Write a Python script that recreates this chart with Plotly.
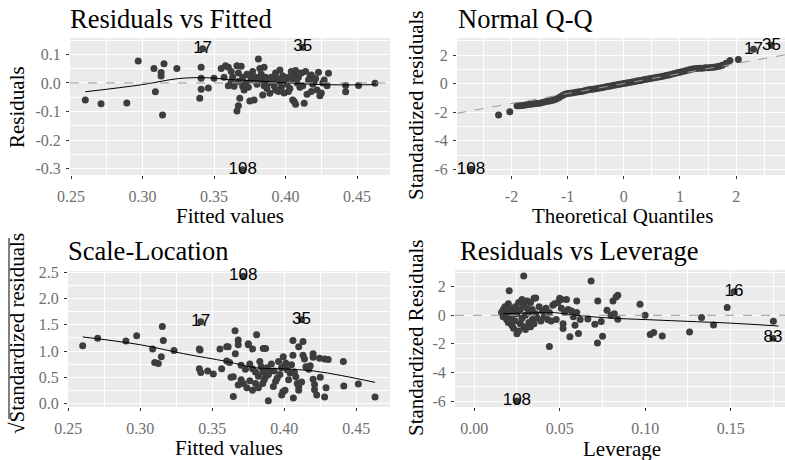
import plotly.graph_objects as go

# ---------------- data ----------------
# Panel 1: Residuals vs Fitted (first three points are the labelled ones)
rv_labels = ["17", "35", "108"]
rv_fitted = [0.342, 0.412, 0.370,
             0.260, 0.271, 0.289, 0.297, 0.308, 0.309, 0.313, 0.313, 0.315, 0.314,
             0.324, 0.341, 0.341, 0.341, 0.340, 0.346, 0.350, 0.355, 0.357, 0.358,
             0.360, 0.360, 0.362, 0.363, 0.364, 0.366, 0.367, 0.367, 0.368, 0.366,
             0.367, 0.369, 0.370, 0.370, 0.372, 0.373, 0.374, 0.375, 0.376, 0.377,
             0.378, 0.379, 0.380, 0.381, 0.382, 0.383, 0.384, 0.384, 0.385, 0.386,
             0.387, 0.388, 0.389, 0.390, 0.391, 0.392, 0.393, 0.394, 0.395, 0.396,
             0.397, 0.398, 0.399, 0.400, 0.401, 0.402, 0.403, 0.404, 0.405, 0.406,
             0.406, 0.407, 0.407, 0.408, 0.409, 0.410, 0.411, 0.412, 0.413, 0.414,
             0.415, 0.416, 0.417, 0.418, 0.419, 0.420, 0.421, 0.422, 0.423, 0.424,
             0.425, 0.426, 0.427, 0.430, 0.429, 0.442, 0.442, 0.451, 0.4625,
             0.362, 0.371, 0.385, 0.393, 0.402, 0.396, 0.380, 0.375, 0.405, 0.418]
rv_resid = [0.119, 0.125, -0.304,
            -0.060, -0.073, -0.070, 0.077, 0.050, -0.031, 0.036, 0.024, 0.067, -0.112,
            0.050, 0.055, 0.016, -0.022, -0.054, -0.018, 0.016, 0.050, 0.020, 0.060,
            -0.010, 0.055, 0.040, 0.020, -0.012, 0.060, 0.035, 0.005, -0.054, -0.098,
            -0.080, 0.058, 0.020, -0.012, 0.000, 0.030, -0.015, -0.063, 0.010, 0.040,
            -0.060, 0.020, -0.005, 0.084, 0.050, 0.030, -0.042, 0.010, 0.055, 0.020,
            -0.020, 0.000, -0.036, 0.020, 0.010, -0.010, -0.025, 0.015, -0.030, 0.005,
            -0.015, 0.025, -0.035, 0.010, -0.005, 0.020, -0.020, 0.040, -0.060, -0.065,
            0.030, -0.075, 0.043, 0.000, 0.020, -0.015, 0.035, -0.010, -0.071, 0.040,
            -0.040, 0.010, 0.020, -0.030, -0.005, 0.005, 0.015, -0.025, 0.037, -0.045,
            -0.035, 0.000, 0.010, 0.034, -0.010, -0.009, -0.031, -0.009, -0.001,
            0.005, -0.025, -0.010, 0.035, -0.030, 0.045, 0.015, 0.025, 0.012, 0.028]
rv_smooth_x = [0.26, 0.30, 0.325, 0.345, 0.36, 0.38, 0.40, 0.42, 0.44, 0.4625]
rv_smooth_y = [-0.031, -0.006, 0.015, 0.018, 0.012, 0.007, 0.000, -0.005, -0.007, -0.006]
rv_xticks = [0.25, 0.30, 0.35, 0.40, 0.45]
rv_xticktext = ["0.25", "0.30", "0.35", "0.40", "0.45"]
rv_yticks = [0.1, 0.0, -0.1, -0.2, -0.3]
rv_yticktext = ["0.1", "0.0", "-0.1", "-0.2", "-0.3"]

# Panel 2: Normal Q-Q
qq_labels = ["108", "17", "35"]
qq_theoretical = [-2.72, 2.31, 2.63,
                  -2.23, -2.03, -1.90, -1.85, -1.80, -1.75, -1.70, -1.65, -1.60, -1.55,
                  -1.50, -1.45, -1.40, -1.35, -1.30, -1.25, -1.20, -1.15, -1.10, -1.05,
                  -1.00, -0.95, -0.90, -0.85, -0.80, -0.75, -0.70, -0.65, -0.60, -0.55,
                  -0.50, -0.45, -0.40, -0.35, -0.30, -0.25, -0.20, -0.15, -0.10, -0.05,
                  0.00, 0.05, 0.10, 0.15, 0.20, 0.25, 0.30, 0.35, 0.40, 0.45, 0.50,
                  0.55, 0.60, 0.65, 0.70, 0.75, 0.80, 0.85, 0.90, 0.95, 1.00, 1.05,
                  1.10, 1.15, 1.20, 1.25, 1.30, 1.35, 1.40, 1.45, 1.50, 1.55, 1.60,
                  1.65, 1.70, 1.75, 1.82, 1.89, 2.04]
qq_std_resid = [-6.00, 2.40, 2.68,
                -2.20, -1.98, -1.55, -1.56, -1.53, -1.50, -1.47, -1.45, -1.42, -1.40,
                -1.37, -1.32, -1.27, -1.24, -1.20, -1.15, -1.08, -0.98, -0.85, -0.74,
                -0.70, -0.67, -0.64, -0.61, -0.58, -0.55, -0.50, -0.45, -0.42, -0.39,
                -0.36, -0.32, -0.29, -0.25, -0.21, -0.18, -0.14, -0.10, -0.07, -0.03,
                0.00, 0.04, 0.08, 0.11, 0.15, 0.19, 0.22, 0.26, 0.30, 0.33, 0.37,
                0.40, 0.44, 0.48, 0.52, 0.56, 0.60, 0.65, 0.70, 0.75, 0.80, 0.85,
                0.90, 0.95, 1.00, 1.03, 1.05, 1.07, 1.08, 1.10, 1.11, 1.12, 1.14,
                1.17, 1.22, 1.28, 1.42, 1.62, 1.68]
qq_line_slope = 0.70
qq_line_intercept = 0.0
qq_xticks = [-2, -1, 0, 1, 2]
qq_xticktext = ["-2", "-1", "0", "1", "2"]
qq_yticks = [2, 0, -2, -4, -6]
qq_yticktext = ["2", "0", "-2", "-4", "-6"]

# Panel 3: Scale-Location
sl_labels = ["108", "17", "35"]
sl_fitted = [0.3715, 0.342, 0.412,
             0.260, 0.2704, 0.290, 0.2975, 0.3086, 0.310, 0.3125, 0.3146, 0.3153, 0.316,
             0.3234, 0.341, 0.3415, 0.341, 0.342, 0.3468, 0.3507, 0.3565, 0.3553, 0.360,
             0.360, 0.3646, 0.3658, 0.368, 0.368, 0.3646, 0.3715, 0.368, 0.373, 0.370,
             0.375, 0.378, 0.3808, 0.3854, 0.387, 0.378, 0.380, 0.385, 0.387, 0.3889,
             0.384, 0.385, 0.389, 0.390, 0.3924, 0.394, 0.3982, 0.399, 0.3993, 0.400,
             0.401, 0.404, 0.4063, 0.406, 0.413, 0.410, 0.406, 0.408, 0.409, 0.410,
             0.410, 0.412, 0.413, 0.414, 0.415, 0.417, 0.418, 0.420, 0.420, 0.420,
             0.421, 0.421, 0.4225, 0.4245, 0.425, 0.428, 0.429, 0.4413, 0.441, 0.4514,
             0.463, 0.376, 0.378, 0.380, 0.382, 0.383, 0.386, 0.388, 0.391, 0.393,
             0.395, 0.396, 0.397, 0.398, 0.402, 0.403, 0.405, 0.407, 0.366, 0.362,
             0.363, 0.370, 0.374, 0.376, 0.382, 0.361, 0.375, 0.4005, 0.4305, 0.428]
sl_sqrt_std_resid = [2.43, 1.56, 1.60,
                     1.10, 1.245, 1.19, 1.29, 1.04, 0.78, 0.76, 0.89, 1.47, 1.20,
                     1.01, 1.04, 1.02, 0.66, 0.59, 0.62, 0.56, 0.66, 1.04, 1.08,
                     0.81, 0.13, 1.39, 1.12, 1.21, 0.51, 0.38, 0.35, 0.65, 0.73,
                     1.12, 1.04, 1.31, 1.05, 1.05, 0.25, 0.38, 0.38, 0.51, 0.05,
                     0.70, 0.60, 0.55, 0.62, 0.32, 0.42, 0.16, 0.22, 0.89, 0.71,
                     0.77, 0.58, 0.10, 1.20, 1.18, 1.08, 0.92, 0.51, 0.38, 0.32,
                     0.25, 0.41, 0.92, 0.85, 0.70, 0.65, 0.72, 0.88, 0.95, 0.46,
                     0.36, 0.26, 0.16, 0.86, 0.50, 0.85, 0.30, 0.33, 0.80, 0.37,
                     0.12, 0.75, 0.66, 0.60, 0.52, 0.80, 0.45, 0.68, 0.75, 0.62,
                     0.48, 0.80, 0.55, 0.68, 0.64, 0.45, 0.74, 0.60, 0.95, 0.78,
                     0.50, 0.45, 0.30, 0.43, 0.30, 1.08, 1.14, 0.25, 0.84, 0.12]
sl_smooth_x = [0.26, 0.30, 0.33, 0.36, 0.38, 0.40, 0.42, 0.44, 0.463]
sl_smooth_y = [1.27, 1.12, 0.95, 0.80, 0.68, 0.66, 0.62, 0.53, 0.40]
sl_yticks = [0.0, 0.5, 1.0, 1.5, 2.0, 2.5]
sl_yticktext = ["0.0", "0.5", "1.0", "1.5", "2.0", "2.5"]

# Panel 4: Residuals vs Leverage
lev_labels = ["108", "16", "83"]
lev_leverage = [0.025, 0.152, 0.1748,
                0.016, 0.017, 0.017, 0.018, 0.018, 0.019, 0.019, 0.020, 0.020, 0.021,
                0.021, 0.022, 0.022, 0.023, 0.023, 0.024, 0.024, 0.025, 0.025, 0.026,
                0.026, 0.027, 0.027, 0.028, 0.028, 0.029, 0.029, 0.030, 0.030, 0.031,
                0.031, 0.032, 0.032, 0.033, 0.033, 0.034, 0.034, 0.035, 0.035, 0.036,
                0.037, 0.038, 0.039, 0.040, 0.041, 0.042, 0.043, 0.044, 0.045,
                0.0205, 0.029, 0.036, 0.044,
                0.046, 0.047, 0.048, 0.049, 0.050, 0.051, 0.051, 0.052, 0.052, 0.053,
                0.054, 0.055, 0.056, 0.057, 0.058, 0.059, 0.060, 0.060, 0.061, 0.062,
                0.0665, 0.0684, 0.0706, 0.0721, 0.0723, 0.0743, 0.0751, 0.0777, 0.080,
                0.0812, 0.083, 0.084, 0.084, 0.082, 0.097, 0.100, 0.103, 0.105, 0.110,
                0.126, 0.133, 0.140, 0.148, 0.175]
lev_std_resid = [-6.00, 1.65, -1.60,
                 0.2, 0.4, -0.1, 0.1, 0.6, -0.3, 0.3, 0.8, -0.5, 0.0,
                 0.5, -0.2, -0.7, 0.3, -0.9, 0.6, -0.4, -1.3, 0.1, -1.1,
                 0.9, -0.6, 0.4, 1.1, -0.2, -0.8, 0.7, 0.0, -1.0, 0.5,
                 1.0, -0.5, 0.2, -0.8, 0.9, -0.3, 0.4, 1.2, -0.6, 0.1,
                 -0.2, 0.6, -0.4, 0.3, -0.1, 0.5, -0.3, 0.2, -0.4,
                 1.72, 2.75, 1.21, -2.19,
                 0.7, 0.8, -0.3, 0.9, 1.2, 0.5, 1.1, -0.6, -0.93, 0.2,
                 1.1, 0.4, -1.5, 0.3, -0.1, -0.7, 1.0, 0.2, -1.27, -0.3,
                 -0.26, 2.40, -0.63, -1.94, 1.00, -0.43, -1.47, 0.36, 0.0,
                 1.0, 1.28, 1.40, -0.28, 0.1, 0.78, 0.0, -1.35, -1.2, -1.45,
                 -1.17, -0.16, -0.68, 0.54, -0.42]
lev_smooth_x = [0.017, 0.03, 0.045, 0.05, 0.06, 0.08, 0.10, 0.13, 0.15, 0.178]
lev_smooth_y = [0.12, 0.15, 0.20, 0.15, 0.00, -0.20, -0.30, -0.45, -0.55, -0.75]
lev_xticks = [0.00, 0.05, 0.10, 0.15]
lev_xticktext = ["0.00", "0.05", "0.10", "0.15"]

# ---------------- styling ----------------
W, H = 785, 460
SERIF = "Liberation Serif"
SANS = "Liberation Sans"
PT_COLOR = "#3d3d3d"
TICK_FONT = dict(family=SERIF, size=16, color="#707070")
TITLE_SIZE = 26.5
AXT_SIZE = 21


def fx(p):
    return p / W


def fy(p):
    return 1 - p / H


def minors(vals, lo, hi):
    step = abs(vals[1] - vals[0])
    start = min(vals) - step / 2
    out = []
    v = start
    while v <= max(vals) + step:
        if lo <= v <= hi:
            out.append(round(v, 6))
        v += step
    return out


def axis(domain, rng, tickvals, ticktext, anchor, standoff):
    return dict(
        domain=domain, range=rng, anchor=anchor, automargin=False,
        tickmode="array", tickvals=tickvals, ticktext=ticktext,
        showgrid=True, gridcolor="white", gridwidth=1.4,
        minor=dict(tickmode="array", tickvals=minors(tickvals, rng[0], rng[1]),
                   showgrid=True, gridcolor="white", gridwidth=0.6, ticks=""),
        ticks="outside", ticklen=3, tickwidth=1, tickcolor="#333333",
        ticklabelstandoff=standoff,
        tickfont=TICK_FONT, zeroline=False, showline=False,
    )


fig = go.Figure()

dom = {
    1: ([fx(70), fx(390)], [fy(175), fy(38)]),
    2: ([fx(457), fx(785)], [fy(175), fy(38)]),
    3: ([fx(68), fx(390)], [fy(407), fy(271)]),
    4: ([fx(455), fx(785)], [fy(407), fy(270)]),
}
rng = {
    1: ([0.2493, 0.473], [-0.322, 0.157]),
    2: ([-2.97, 2.87], [-6.4, 3.19]),
    3: ([0.2498, 0.4734], [-0.07, 2.53]),
    4: ([-0.0112, 0.1818], [-6.42, 3.17]),
}
XS, YS = 4, 2

layout_axes = {}
layout_axes["xaxis"] = axis(dom[1][0], rng[1][0], rv_xticks, rv_xticktext, "y", XS)
layout_axes["yaxis"] = axis(dom[1][1], rng[1][1], rv_yticks, rv_yticktext, "x", YS)
layout_axes["xaxis2"] = axis(dom[2][0], rng[2][0], qq_xticks, qq_xticktext, "y2", XS)
layout_axes["yaxis2"] = axis(dom[2][1], rng[2][1], qq_yticks, qq_yticktext, "x2", YS)
layout_axes["xaxis3"] = axis(dom[3][0], rng[3][0], rv_xticks, rv_xticktext, "y3", XS)
layout_axes["yaxis3"] = axis(dom[3][1], rng[3][1], sl_yticks, sl_yticktext, "x3", YS)
layout_axes["xaxis4"] = axis(dom[4][0], rng[4][0], lev_xticks, lev_xticktext, "y4", XS)
layout_axes["yaxis4"] = axis(dom[4][1], rng[4][1], qq_yticks, qq_yticktext, "x4", YS)


def points(x, y, xa, ya):
    fig.add_trace(go.Scatter(x=x, y=y, mode="markers", xaxis=xa, yaxis=ya,
                             marker=dict(size=7, color=PT_COLOR, line=dict(width=0)),
                             showlegend=False, hoverinfo="skip"))


def smooth(x, y, xa, ya):
    fig.add_trace(go.Scatter(x=x, y=y, mode="lines", xaxis=xa, yaxis=ya,
                             line=dict(color="black", width=1, shape="spline"),
                             showlegend=False, hoverinfo="skip"))


def labels(x, y, txt, xa, ya):
    fig.add_trace(go.Scatter(x=x[:len(txt)], y=y[:len(txt)], text=txt, mode="text",
                             xaxis=xa, yaxis=ya, textposition="middle center",
                             textfont=dict(family=SANS, size=17, color="black"),
                             showlegend=False, hoverinfo="skip", cliponaxis=False))


# Panel 1
points(rv_fitted, rv_resid, "x", "y")
smooth(rv_smooth_x, rv_smooth_y, "x", "y")
# Panel 2
points(qq_theoretical, qq_std_resid, "x2", "y2")
qx = rng[2][0]
fig.add_trace(go.Scatter(x=qx, y=[qq_line_intercept + qq_line_slope * v for v in qx],
                         mode="lines", xaxis="x2", yaxis="y2",
                         line=dict(color="#999999", width=1, dash="dash"),
                         showlegend=False, hoverinfo="skip"))
# Panel 3
points(sl_fitted, sl_sqrt_std_resid, "x3", "y3")
smooth(sl_smooth_x, sl_smooth_y, "x3", "y3")
# Panel 4
points(lev_leverage, lev_std_resid, "x4", "y4")
smooth(lev_smooth_x, lev_smooth_y, "x4", "y4")

# labels on top
labels(rv_fitted, rv_resid, rv_labels, "x", "y")
labels(qq_theoretical, qq_std_resid, qq_labels, "x2", "y2")
labels(sl_fitted, sl_sqrt_std_resid, sl_labels, "x3", "y3")
labels(lev_leverage, lev_std_resid, lev_labels, "x4", "y4")

shapes = []
for xr, yr in (("x", "y"), ("x4", "y4")):
    shapes.append(dict(type="line", xref=xr + " domain", x0=0, x1=1, yref=yr, y0=0, y1=0,
                       line=dict(color="#999999", width=1, dash="dash"), layer="above"))
# overline of the square-root sign on the Scale-Location y title
shapes.append(dict(type="line", xref="paper", yref="paper", x0=fx(9), x1=fx(9),
                   y0=fy(238), y1=fy(419), line=dict(color="black", width=1)))

ann = []


def text(t, x, y, size, xanchor="left", angle=0):
    ann.append(dict(text=t, x=fx(x), y=fy(y), xref="paper", yref="paper",
                    xanchor=xanchor, yanchor="middle", showarrow=False, textangle=angle,
                    font=dict(family=SERIF, size=size, color="black")))


text("Residuals vs Fitted", 68, 19, TITLE_SIZE)
text("Normal Q-Q", 456, 19, TITLE_SIZE)
text("Scale-Location", 66, 251, TITLE_SIZE)
text("Residuals vs Leverage", 458, 251, TITLE_SIZE)
text("Fitted values", 230, 216, AXT_SIZE, "center")
text("Theoretical Quantiles", 622, 216, AXT_SIZE, "center")
text("Fitted values", 229, 448, AXT_SIZE, "center")
text("Leverage", 622, 449, AXT_SIZE, "center")
text("Residuals", 17, 107, AXT_SIZE, "center", -90)
text("Standardized residuals", 416, 105, AXT_SIZE, "center", -90)
text("√Standardized residuals", 17, 334, AXT_SIZE, "center", -90)
text("Standardized Residuals", 416, 338, AXT_SIZE, "center", -90)

fig.update_layout(width=W, height=H, margin=dict(l=0, r=0, t=0, b=0),
                  paper_bgcolor="white", plot_bgcolor="#EBEBEB",
                  showlegend=False, annotations=ann, shapes=shapes, **layout_axes)

fig.write_html("out.html", config={"displayModeBar": False},
               post_script="document.body.style.margin='0px';document.body.style.overflow='hidden';")
